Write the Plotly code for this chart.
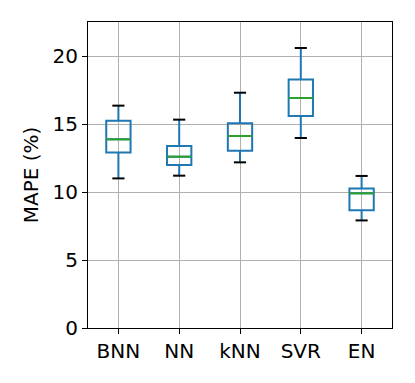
import plotly.graph_objects as go

categories = ["BNN", "NN", "kNN", "SVR", "EN"]
whisker_low = [11.0, 11.2, 12.18, 13.97, 7.91]
q1 = [12.91, 11.98, 13.04, 15.59, 8.65]
median = [13.87, 12.6, 14.12, 16.91, 9.9]
q3 = [15.24, 13.38, 15.05, 18.28, 10.26]
whisker_high = [16.35, 15.32, 17.3, 20.59, 11.18]
y_ticks = [0, 5, 10, 15, 20]

positions = list(range(1, len(categories) + 1))
box_half = 0.2
cap_half = 0.1

fig = go.Figure()
fig.add_trace(go.Box(
    x=positions, q1=q1, median=median, q3=q3,
    lowerfence=whisker_low, upperfence=whisker_high,
    width=2 * box_half, whiskerwidth=0,
    line=dict(color="#1f77b4", width=2), fillcolor="rgba(0,0,0,0)",
    boxpoints=False, hoverinfo="skip", showlegend=False,
))

# medians (green) and caps (black)
mx, my, cx, cy = [], [], [], []
for p, m, lo, hi in zip(positions, median, whisker_low, whisker_high):
    mx += [p - box_half, p + box_half, None]
    my += [m, m, None]
    cx += [p - cap_half, p + cap_half, None, p - cap_half, p + cap_half, None]
    cy += [lo, lo, None, hi, hi, None]
fig.add_trace(go.Scatter(x=mx, y=my, mode="lines", line=dict(color="#2ca02c", width=2),
                         showlegend=False, hoverinfo="skip"))
fig.add_trace(go.Scatter(x=cx, y=cy, mode="lines", line=dict(color="black", width=2),
                         showlegend=False, hoverinfo="skip"))

font = dict(family="DejaVu Sans", size=20, color="black")
fig.update_layout(
    width=407, height=375,
    margin=dict(l=80, r=23, t=14, b=55),
    plot_bgcolor="white", paper_bgcolor="white",
    font=font,
    xaxis=dict(range=[0.5, 5.5], tickmode="array", tickvals=positions, ticktext=categories,
               showgrid=True, gridcolor="#b0b0b0", gridwidth=1,
               showline=True, mirror=True, linecolor="black", linewidth=1.2,
               ticks="outside", ticklen=5, tickcolor="black", zeroline=False,
               tickfont=font),
    yaxis=dict(range=[0, 22.5], tickmode="array", tickvals=y_ticks,
               showgrid=True, gridcolor="#b0b0b0", gridwidth=1,
               showline=True, mirror=True, linecolor="black", linewidth=1.2,
               ticks="outside", ticklen=5, tickcolor="black", zeroline=False,
               title=dict(text="MAPE (%)", font=font, standoff=8),
               tickfont=font),
)
fig.write_html("out.html")
